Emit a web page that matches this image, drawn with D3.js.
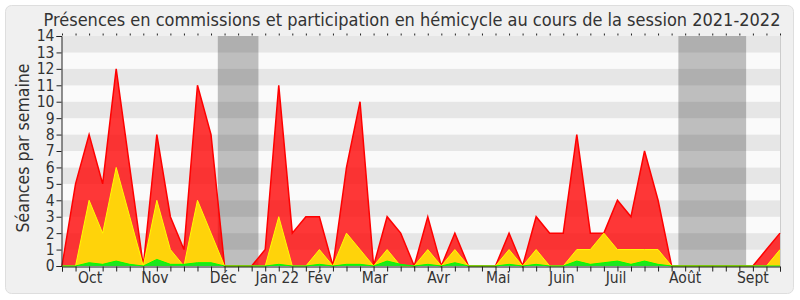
<!DOCTYPE html>
<html>
<head>
<meta charset="utf-8">
<script src="https://cdn.jsdelivr.net/npm/d3@7"></script>
<style>
  body { margin: 0; background: #fff; }
  svg text { font-family: "DejaVu Sans Condensed", "DejaVu Sans", sans-serif; font-stretch: condensed; fill: #333; }
</style>
</head>
<body>
<div id="chart"></div>
<script>
// weekly values, week 0 .. 53 of the session
var commissions = [0,5,8,5,12,6,0,8,3,1,11,8,0,0,0,1,11,2,3,3,0,6,10,0,3,2,0,3,0,2,0,0,0,2,0,3,2,2,8,2,2,4,3,7,4,0,0,0,0,0,0,0,1,2]
var hemicycle   = [0,0,4,2,6,3,0,4,1,0,4,2,0,0,0,0,3,0,0,1,0,2,1,0,1,0,0,1,0,1,0,0,0,1,0,1,0,0,1,1,2,1,1,1,1,0,0,0,0,0,0,0,0,1]
var interventions = [0,0,0.2,0.1,0.3,0.1,0,0.4,0.1,0.1,0.2,0.2,0,0,0,0,0.1,0,0,0.1,0,0.1,0.1,0,0.3,0.1,0,0.1,0,0.2,0,0,0,0.1,0,0.1,0,0,0.3,0.1,0.2,0.3,0.1,0.3,0.1,0,0,0,0,0,0,0,0,0]

// holidays (in weeks)
var vacances = [[11.5, 14.5], [45.5, 50.5]]

// month labels and where they sit (in weeks)
var moisLabels = ["Oct","Nov","Déc","Jan 22","Fév","Mar","Avr","Mai","Juin","Juil","Août","Sept"]
var moisPos    = [2.07, 6.86, 11.9, 15.9, 19.0, 23.1, 27.8, 32.2, 36.9, 40.9, 46.0, 51.0]

var width  = 800
var height = 300

var x = d3.scaleLinear().domain([0, 53]).range([62, 780])
var y = d3.scaleLinear().domain([0, 14]).range([266, 36])

var svg = d3.select("#chart").append("svg")
    .attr("width", width)
    .attr("height", height)

svg.append("rect")
    .attr("x", 5.5).attr("y", 5.5)
    .attr("width", 788).attr("height", 288)
    .attr("rx", 6)
    .attr("fill", "#f0f0f0")
    .attr("stroke", "#dedede")

// horizontal stripes
svg.selectAll("rect.stripe")
    .data(d3.range(14))
    .enter()
    .append("rect")
    .attr("class", "stripe")
    .attr("x", x(0))
    .attr("width", x(53) - x(0))
    .attr("y", function (d) { return y(d + 1) })
    .attr("height", function (d) { return y(d) - y(d + 1) })
    .attr("fill", function (d) { return d % 2 == 1 ? "#e6e6e6" : "#fafafa" })

svg.append("line")
    .attr("x1", x(53) + 0.5).attr("x2", x(53) + 0.5)
    .attr("y1", y(14)).attr("y2", y(0))
    .attr("stroke", "#cccccc")

svg.selectAll("rect.vac")
    .data(vacances)
    .enter()
    .append("rect")
    .attr("class", "vac")
    .attr("x", function (d) { return x(d[0]) })
    .attr("width", function (d) { return x(d[1]) - x(d[0]) })
    .attr("y", y(14))
    .attr("height", y(0) - y(14))
    .attr("fill", "rgba(0,0,0,0.24)")

function drawArea(values, fill, stroke, sw) {
    var area = d3.area()
        .x(function (d, i) { return x(i) })
        .y0(y(0))
        .y1(function (d) { return y(d) })
    var line = d3.line()
        .x(function (d, i) { return x(i) })
        .y(function (d) { return y(d) })
    svg.append("path").datum(values).attr("d", area).attr("fill", fill)
    svg.append("path").datum(values).attr("d", line)
        .attr("fill", "none").attr("stroke", stroke).attr("stroke-width", sw)
}

drawArea(commissions, "rgba(255,0,0,0.78)", "#ff0000", 1.5)
drawArea(hemicycle, "#ffd30a", "#ffff00", 1)
drawArea(interventions, "#1ee61e", "#00ff00", 1)

// axes
var yAxis = svg.append("g")
    .attr("transform", "translate(" + (x(0) - 0.5) + ",0)")
    .call(d3.axisLeft(y).ticks(14).tickSize(5).tickPadding(2))
yAxis.selectAll("text").style("font-size", "15.5px")
yAxis.selectAll("line, path").attr("stroke", "#222")

var xAxis = svg.append("g")
    .attr("transform", "translate(0," + (y(0) + 0.5) + ")")
    .call(d3.axisBottom(x).tickValues(d3.range(54)).tickSize(5).tickFormat(""))
xAxis.selectAll("line, path").attr("stroke", "#222")

var topAxis = svg.append("g")
    .attr("transform", "translate(0," + (y(14) - 0.5) + ")")
    .call(d3.axisTop(x).tickValues(d3.range(54)).tickSize(2).tickFormat(""))
topAxis.select("path").remove()
topAxis.selectAll("line").attr("stroke", "#222")

svg.selectAll("text.mois")
    .data(moisLabels)
    .enter()
    .append("text")
    .attr("class", "mois")
    .attr("x", function (d, i) { return x(moisPos[i]) })
    .attr("y", 283)
    .attr("text-anchor", "middle")
    .style("font-size", "15.5px")
    .text(function (d) { return d })

svg.append("text")
    .attr("transform", "translate(29,148) rotate(-90)")
    .attr("text-anchor", "middle")
    .style("font-size", "17.5px")
    .text("Séances par semaine")

svg.append("text")
    .attr("x", 412)
    .attr("y", 26)
    .attr("text-anchor", "middle")
    .style("font-size", "18px")
    .text("Présences en commissions et participation en hémicycle au cours de la session 2021-2022")
</script>
</body>
</html>
